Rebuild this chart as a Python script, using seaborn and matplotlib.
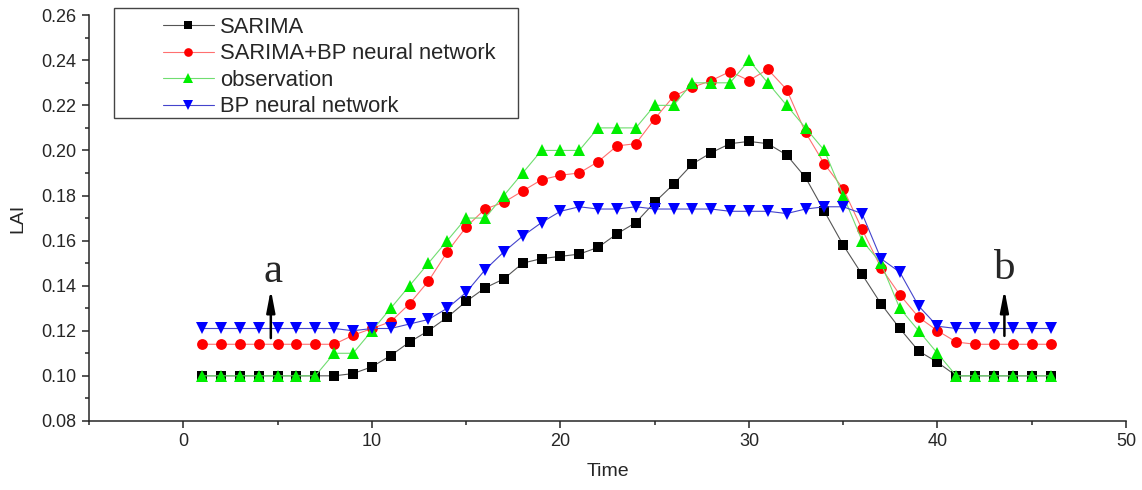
import matplotlib
matplotlib.use("Agg")
import matplotlib.pyplot as plt
from matplotlib.patches import Rectangle
from matplotlib.ticker import MultipleLocator
import pandas as pd
import seaborn as sns

time = list(range(1, 47))

sarima = [0.100, 0.100, 0.100, 0.100, 0.100, 0.100, 0.100, 0.100, 0.101, 0.104,
          0.109, 0.115, 0.120, 0.126, 0.133, 0.139, 0.143, 0.150, 0.152, 0.153,
          0.154, 0.157, 0.163, 0.168, 0.177, 0.185, 0.194, 0.199, 0.203, 0.204,
          0.203, 0.198, 0.188, 0.173, 0.158, 0.145, 0.132, 0.121, 0.111, 0.106,
          0.100, 0.100, 0.100, 0.100, 0.100, 0.100]

sarima_bp = [0.114, 0.114, 0.114, 0.114, 0.114, 0.114, 0.114, 0.114, 0.118, 0.121,
             0.124, 0.132, 0.142, 0.155, 0.166, 0.174, 0.177, 0.182, 0.187, 0.189,
             0.190, 0.195, 0.202, 0.203, 0.214, 0.224, 0.228, 0.231, 0.235, 0.231,
             0.236, 0.227, 0.208, 0.194, 0.183, 0.165, 0.148, 0.136, 0.126, 0.120,
             0.115, 0.114, 0.114, 0.114, 0.114, 0.114]

observation = [0.10, 0.10, 0.10, 0.10, 0.10, 0.10, 0.10, 0.11, 0.11, 0.12,
               0.13, 0.14, 0.15, 0.16, 0.17, 0.17, 0.18, 0.19, 0.20, 0.20,
               0.20, 0.21, 0.21, 0.21, 0.22, 0.22, 0.23, 0.23, 0.23, 0.24,
               0.23, 0.22, 0.21, 0.20, 0.18, 0.16, 0.15, 0.13, 0.12, 0.11,
               0.10, 0.10, 0.10, 0.10, 0.10, 0.10]

bp = [0.121, 0.121, 0.121, 0.121, 0.121, 0.121, 0.121, 0.121, 0.120, 0.121,
      0.121, 0.123, 0.125, 0.130, 0.137, 0.147, 0.155, 0.162, 0.168, 0.173,
      0.175, 0.174, 0.174, 0.175, 0.174, 0.174, 0.174, 0.174, 0.173, 0.173,
      0.173, 0.172, 0.174, 0.175, 0.175, 0.172, 0.152, 0.146, 0.131, 0.122,
      0.121, 0.121, 0.121, 0.121, 0.121, 0.121]

series_names = ["SARIMA", "SARIMA+BP neural network", "observation", "BP neural network"]
series_values = [sarima, sarima_bp, observation, bp]
colors = ["#000000", "#ff0000", "#00ee00", "#0000ff"]
line_colors = ["#555555", "#ff7070", "#70dd70", "#4444cc"]
markers = ["s", "o", "^", "v"]
marker_sizes = [6.5, 7.8, 9, 9]

sns.set_style("ticks")
plt.rcParams["font.family"] = ["Liberation Sans", "DejaVu Sans"]

fig = plt.figure(figsize=(11.42, 4.90), dpi=100)
ax = fig.add_axes([0.078, 0.141, 0.908, 0.828])

for name, vals, c, lc, m, ms in zip(series_names, series_values, colors, line_colors,
                                    markers, marker_sizes):
    df = pd.DataFrame({"Time": time, "LAI": vals})
    sns.lineplot(data=df, x="Time", y="LAI", ax=ax, color=c, marker=m,
                 markersize=ms, markeredgewidth=0, linewidth=0.8, label=name)
    ln = ax.lines[-1]
    ln.set_color(lc)
    ln.set_markerfacecolor(c)
    ln.set_markeredgecolor(c)

ax.set_xlim(-5, 50)
ax.set_ylim(0.08, 0.26)
ax.xaxis.set_major_locator(MultipleLocator(10))
ax.xaxis.set_minor_locator(MultipleLocator(5))
ax.yaxis.set_major_locator(MultipleLocator(0.02))
ax.yaxis.set_minor_locator(MultipleLocator(0.01))
ax.yaxis.set_major_formatter(plt.FormatStrFormatter("%.2f"))
ax.tick_params(which="major", direction="out", length=5, width=1.1, labelsize=13, pad=4)
ax.tick_params(which="minor", direction="out", length=3, width=1.1)
sns.despine(ax=ax)
for s in ["left", "bottom"]:
    ax.spines[s].set_linewidth(1.1)
ax.set_xlabel("Time", fontsize=14, labelpad=9)
ax.set_ylabel("LAI", fontsize=14, labelpad=11)

# arrows + letters
ax.annotate("", xy=(4.64, 0.1395), xytext=(4.64, 0.1155),
            arrowprops=dict(arrowstyle="-|>,head_length=1.3,head_width=0.25", color="black", lw=1.8))
ax.text(4.77, 0.1415, "a", fontsize=31, family="Liberation Serif", ha="center", va="baseline")
ax.annotate("", xy=(43.55, 0.1395), xytext=(43.55, 0.1165),
            arrowprops=dict(arrowstyle="-|>,head_length=1.3,head_width=0.25", color="black", lw=1.8))
ax.text(43.56, 0.1430, "b", fontsize=31, family="Liberation Serif", ha="center", va="baseline")

leg = ax.legend(loc="upper left", bbox_to_anchor=(0.0714, 0.996), borderaxespad=0,
                borderpad=0, frameon=False, fontsize=15.8, handlelength=2.3,
                handletextpad=0.3, labelspacing=0.25, markerscale=0.8)
ax.add_patch(Rectangle((0.0241, 0.746), 0.3896, 0.271, transform=ax.transAxes,
                       fill=False, edgecolor="#444444", linewidth=1.0, clip_on=False))

fig.savefig("out.png", dpi=100)
